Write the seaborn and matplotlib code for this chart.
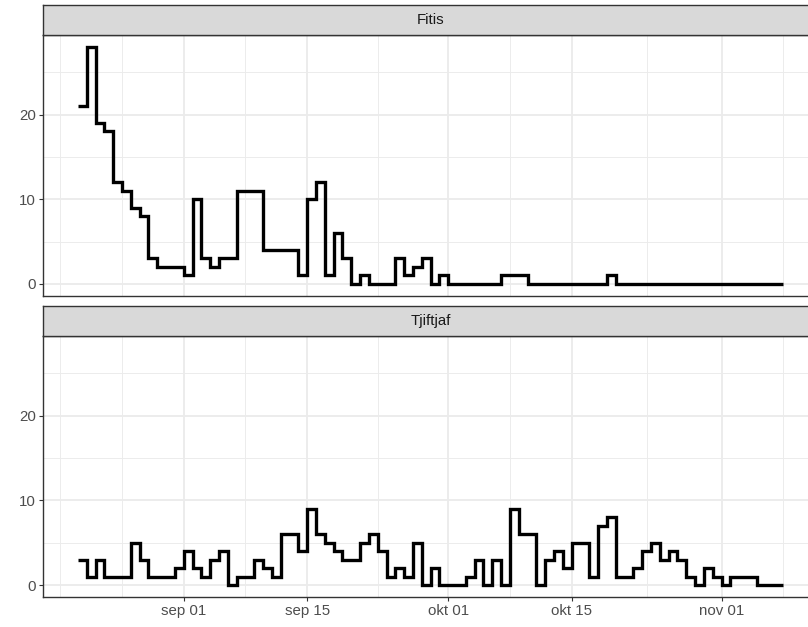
import numpy as np
import pandas as pd
import matplotlib
matplotlib.use("Agg")
import matplotlib.pyplot as plt
import matplotlib.dates as mdates
from matplotlib.ticker import FixedLocator
import seaborn as sns

# ---- data ----
start_date = "2021-08-20"
n_days = 81
species = ["Fitis", "Tjiftjaf"]
fitis = [21, 28, 19, 18, 12, 11, 9, 8, 3, 2,
         2, 2, 1, 10, 3, 2, 3, 3, 11, 11,
         11, 4, 4, 4, 4, 1, 10, 12, 1, 6,
         3, 0, 1, 0, 0, 0, 3, 1, 2, 3,
         0, 1, 0, 0, 0, 0, 0, 0, 1, 1,
         1, 0, 0, 0, 0, 0, 0, 0, 0, 0,
         1, 0, 0, 0, 0, 0, 0, 0, 0, 0,
         0, 0, 0, 0, 0, 0, 0, 0, 0, 0,
         0]
tjiftjaf = [3, 1, 3, 1, 1, 1, 5, 3, 1, 1,
            1, 2, 4, 2, 1, 3, 4, 0, 1, 1,
            3, 2, 1, 6, 6, 4, 9, 6, 5, 4,
            3, 3, 5, 6, 4, 1, 2, 1, 5, 0,
            2, 0, 0, 0, 1, 3, 0, 3, 0, 9,
            6, 6, 0, 3, 4, 2, 5, 5, 1, 7,
            8, 1, 1, 2, 4, 5, 3, 4, 3, 1,
            0, 2, 1, 0, 1, 1, 1, 0, 0, 0,
            0]
tick_dates = ["2021-09-01", "2021-09-15", "2021-10-01", "2021-10-15", "2021-11-01"]
tick_labels = ["sep 01", "sep 15", "okt 01", "okt 15", "nov 01"]
minor_dates = ["2021-08-18 00:00", "2021-08-25 00:00", "2021-09-08 00:00", "2021-09-23 00:00",
               "2021-10-08 00:00", "2021-10-23 12:00", "2021-11-08 00:00", "2021-11-15 00:00"]
y_ticks = [0, 10, 20]
y_minor = [5, 15, 25]

dates = pd.date_range(start_date, periods=n_days, freq="D")
df = pd.DataFrame({
    "date": np.concatenate([dates, dates]),
    "count": fitis + tjiftjaf,
    "species": ["Fitis"] * n_days + ["Tjiftjaf"] * n_days,
})

sns.set_theme(style="white")
plt.rcParams["font.family"] = ["Liberation Sans", "DejaVu Sans"]

W, H = 808, 627
fig = plt.figure(figsize=(W / 100, H / 100), dpi=100)

def fx(px):
    return px / W

def fy(py):
    return 1 - py / H

left_px, right_px = 42.7, 818.5
panels = [(35, 295.7, 5), (336, 597, 306)]  # panel top, panel bottom, strip top

dmin = pd.Timestamp(start_date)
dmax = dates[-1]
span = (dmax - dmin)
xlim = (mdates.date2num(dmin - span * 0.05), mdates.date2num(dmax + span * 0.05))
ymax = max(max(fitis), max(tjiftjaf))
ylim = (-0.05 * ymax, ymax * 1.05)

major_x = mdates.date2num(pd.to_datetime(tick_dates, format="%Y-%m-%d"))
minor_x = mdates.date2num(pd.to_datetime(minor_dates, format="%Y-%m-%d %H:%M"))

border = "#333333"
fs = 10.8
for i, sp in enumerate(species):
    ptop, pbot, stop = panels[i]
    ax = fig.add_axes([fx(left_px), fy(pbot), fx(right_px - left_px), (pbot - ptop) / H])
    sub = df[df["species"] == sp]
    sns.lineplot(data=sub, x="date", y="count", ax=ax, color="black",
                 linewidth=2.4, drawstyle="steps-post", estimator=None,
                 solid_capstyle="butt", solid_joinstyle="miter")
    ax.set_xlim(*xlim)
    ax.set_ylim(*ylim)
    ax.set_xlabel("")
    ax.set_ylabel("")
    ax.xaxis.set_major_locator(FixedLocator(major_x))
    ax.xaxis.set_minor_locator(FixedLocator(minor_x))
    ax.yaxis.set_major_locator(FixedLocator(y_ticks))
    ax.yaxis.set_minor_locator(FixedLocator(y_minor))
    ax.set_yticklabels([str(v) for v in y_ticks])
    if i == len(species) - 1:
        ax.set_xticklabels(tick_labels)
        ax.tick_params(axis="x", which="major", length=3.0, width=0.8, color=border,
                       labelsize=fs, labelcolor="#4D4D4D", pad=2.0, bottom=True)
    else:
        ax.set_xticklabels([])
        ax.tick_params(axis="x", which="major", length=0, bottom=False)
    ax.tick_params(axis="y", which="major", length=3.0, width=0.8, color=border,
                   labelsize=fs, labelcolor="#4D4D4D", pad=2.0, left=True)
    ax.tick_params(which="minor", length=0)
    ax.set_facecolor("white")
    ax.grid(which="major", color="#EBEBEB", linewidth=1.3)
    ax.grid(which="minor", color="#EBEBEB", linewidth=0.65)
    ax.set_axisbelow(True)
    for s in ax.spines.values():
        s.set_color(border)
        s.set_linewidth(1.0)
        s.set_visible(True)

    sax = fig.add_axes([fx(left_px), fy(ptop), fx(right_px - left_px), (ptop - stop) / H])
    sax.set_facecolor("#D9D9D9")
    sax.set_xticks([])
    sax.set_yticks([])
    for s in sax.spines.values():
        s.set_color(border)
        s.set_linewidth(1.0)
    # the strip label sits at the centre of the full (cropped) strip
    sax.text(0.5, 0.5, sp, transform=sax.transAxes, ha="center", va="center",
             fontsize=fs, color="#1A1A1A")

fig.savefig("out.png", dpi=100)
